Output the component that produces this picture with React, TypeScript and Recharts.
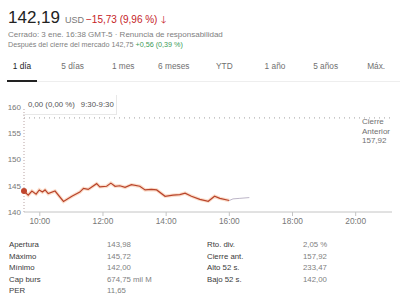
import { LineChart, Line, XAxis, YAxis, ReferenceLine, ReferenceDot } from 'recharts';

const regTimes = [
  '9:30', '9:38', '9:45', '9:53', '9:59', '10:05', '10:10', '10:16', '10:29', '10:45',
  '11:01', '11:16', '11:23', '11:32', '11:48', '11:54', '12:07', '12:15', '12:23', '12:32',
  '12:42', '12:54', '13:10', '13:20', '13:32', '13:42', '13:58', '14:13', '14:26', '14:36',
  '14:48', '15:04', '15:20', '15:32', '15:42', '16:00',
];
const regPrices = [
  143.98, 143.2, 144.0, 143.4, 144.2, 143.8, 144.2, 143.5, 144.0, 142.0,
  143.0, 143.8, 144.5, 144.3, 145.4, 144.8, 144.9, 145.5, 144.9, 145.0,
  144.7, 145.2, 144.9, 144.2, 144.3, 144.2, 143.0, 143.2, 143.3, 143.6,
  143.0, 142.4, 142.05, 143.0, 142.6, 142.19,
];
const afterTimes = ['16:00', '16:07', '16:20', '16:38'];
const afterPrices = [142.19, 142.5, 142.6, 142.75];

const yTicks = [140, 145, 150, 155, 160];
const xTicks = [10, 12, 14, 16, 18, 20];
const prevClose = 157.92;

const tabs = ['1 día', '5 días', '1 mes', '6 meses', 'YTD', '1 año', '5 años', 'Máx.'];

const statLabelsL = ['Apertura', 'Máximo', 'Mínimo', 'Cap burs', 'PER'];
const statValuesL = ['143,98', '145,72', '142,00', '674,75 mil M', '11,65'];
const statLabelsR = ['Rto. div.', 'Cierre ant.', 'Alto 52 s.', 'Bajo 52 s.'];
const statValuesR = ['2,05 %', '157,92', '233,47', '142,00'];

const toHours = (s: string) => {
  const [h, m] = s.split(':').map(Number);
  return h + m / 60;
};

const regData = regTimes.map((t, i) => ({ t: toHours(t), p: regPrices[i] }));
const afterData = afterTimes.map((t, i) => ({ t: toHours(t), p: afterPrices[i] }));

const font = '"Liberation Sans", Arial, Helvetica, sans-serif';

export default function App() {
  return (
    <div
      style={{
        position: 'absolute',
        left: 0,
        top: 0,
        width: 400,
        height: 304,
        background: '#fff',
        overflow: 'hidden',
        fontFamily: font,
      }}
    >
      {/* header */}
      <div style={{ position: 'absolute', left: 8, top: 8, whiteSpace: 'nowrap', lineHeight: '20px' }}>
        <span style={{ fontSize: 17, color: '#222' }}>142,19</span>
        <span style={{ fontSize: 9, color: '#777', marginLeft: 5 }}>USD</span>
        <span style={{ fontSize: 10, color: '#c5221f', marginLeft: 2 }}>−15,73 (9,96 %)</span>
        <span style={{ fontSize: 10, color: '#c5221f', marginLeft: 4 }}>🡓</span>
      </div>
      <div style={{ position: 'absolute', left: 8, top: 30, fontSize: 8, color: '#808080', whiteSpace: 'nowrap' }}>
        Cerrado: 3 ene. 16:38 GMT-5 · Renuncia de responsabilidad
      </div>
      <div style={{ position: 'absolute', left: 8, top: 39.5, fontSize: 7.2, color: '#808080', whiteSpace: 'nowrap' }}>
        Después del cierre del mercado 142,75 <span style={{ color: '#3a9a55' }}>+0,56 (0,39 %)</span>
      </div>

      {/* tabs */}
      {tabs.map((t, i) => (
        <div
          key={t}
          style={{
            position: 'absolute',
            left: 22 + i * 50.6,
            top: 61,
            transform: 'translateX(-50%)',
            fontSize: 8.3,
            color: i === 0 ? '#222' : '#707070',
            whiteSpace: 'nowrap',
          }}
        >
          {t}
        </div>
      ))}
      <div style={{ position: 'absolute', left: 37, top: 81, width: 363, height: 1, background: '#eee' }} />
      <div style={{ position: 'absolute', left: 7, top: 80, width: 30, height: 2, background: '#222' }} />

      {/* chart */}
      <div style={{ position: 'absolute', left: 0, top: 95 }}>
        <LineChart width={400} height={138} margin={{ top: 12, right: 8, left: 0, bottom: 0 }}>
          <XAxis
            type="number"
            dataKey="t"
            domain={[9.5, 21.15]}
            ticks={xTicks}
            tickFormatter={(v: number) => `${v}:00`}
            allowDataOverflow
            height={21}
            tickSize={4}
            tickMargin={2}
            stroke="#c4c4c4"
            tick={{ fontSize: 8.3, fill: '#777', fontFamily: font }}
          />
          <YAxis
            type="number"
            domain={[140, 160]}
            ticks={yTicks}
            width={24}
            axisLine={false}
            tickLine={false}
            tickSize={0}
            tickMargin={3}
            tick={{ fontSize: 8, fill: '#777', fontFamily: font }}
          />
          <ReferenceLine y={prevClose} stroke="#a0a0a0" strokeDasharray="1 4" />
          <ReferenceLine x={9.5} stroke="#b9a3a3" strokeDasharray="1 2" />
          <Line
            data={regData}
            dataKey="p"
            type="linear"
            stroke="#f6b48c"
            strokeOpacity={0.45}
            strokeWidth={3.5}
            dot={false}
            isAnimationActive={false}
          />
          <Line
            data={regData}
            dataKey="p"
            type="linear"
            stroke="#b8442b"
            strokeWidth={1.2}
            dot={false}
            isAnimationActive={false}
          />
          <Line
            data={afterData}
            dataKey="p"
            type="linear"
            stroke="#bdb6c8"
            strokeWidth={1}
            dot={false}
            isAnimationActive={false}
          />
          <ReferenceDot x={9.5} y={regPrices[0]} r={3} fill="#c0462e" stroke="none" />
        </LineChart>
      </div>

      {/* hover box */}
      <div
        style={{
          position: 'absolute',
          left: 23,
          top: 95,
          width: 94,
          height: 20,
          borderRight: '1px solid #e8e8e8',
          borderBottom: '1px solid #e8e8e8',
          boxSizing: 'border-box',
          fontSize: 7.8,
          color: '#555',
          lineHeight: '20px',
          paddingLeft: 5,
          whiteSpace: 'nowrap',
        }}
      >
        0,00 (0,00 %)<span style={{ marginLeft: 6 }}>9:30-9:30</span>
      </div>

      {/* previous close label */}
      <div style={{ position: 'absolute', left: 362, top: 117, fontSize: 8, lineHeight: '9.5px', color: '#707070' }}>
        Cierre
        <br />
        Anterior
        <br />
        {'157,92'}
      </div>

      {/* stats */}
      {statLabelsL.map((l, i) => (
        <div key={l} style={{ position: 'absolute', left: 9, top: 240 + i * 11.6, fontSize: 7.8, color: '#3a3a3a', whiteSpace: 'nowrap' }}>
          {l}
        </div>
      ))}
      {statValuesL.map((v, i) => (
        <div key={'vl' + i} style={{ position: 'absolute', left: 107, top: 240 + i * 11.6, fontSize: 7.8, color: '#808080', whiteSpace: 'nowrap' }}>
          {v}
        </div>
      ))}
      {statLabelsR.map((l, i) => (
        <div key={l} style={{ position: 'absolute', left: 207, top: 240 + i * 11.6, fontSize: 7.8, color: '#3a3a3a', whiteSpace: 'nowrap' }}>
          {l}
        </div>
      ))}
      {statValuesR.map((v, i) => (
        <div key={'vr' + i} style={{ position: 'absolute', left: 303, top: 240 + i * 11.6, fontSize: 7.8, color: '#808080', whiteSpace: 'nowrap' }}>
          {v}
        </div>
      ))}
    </div>
  );
}
